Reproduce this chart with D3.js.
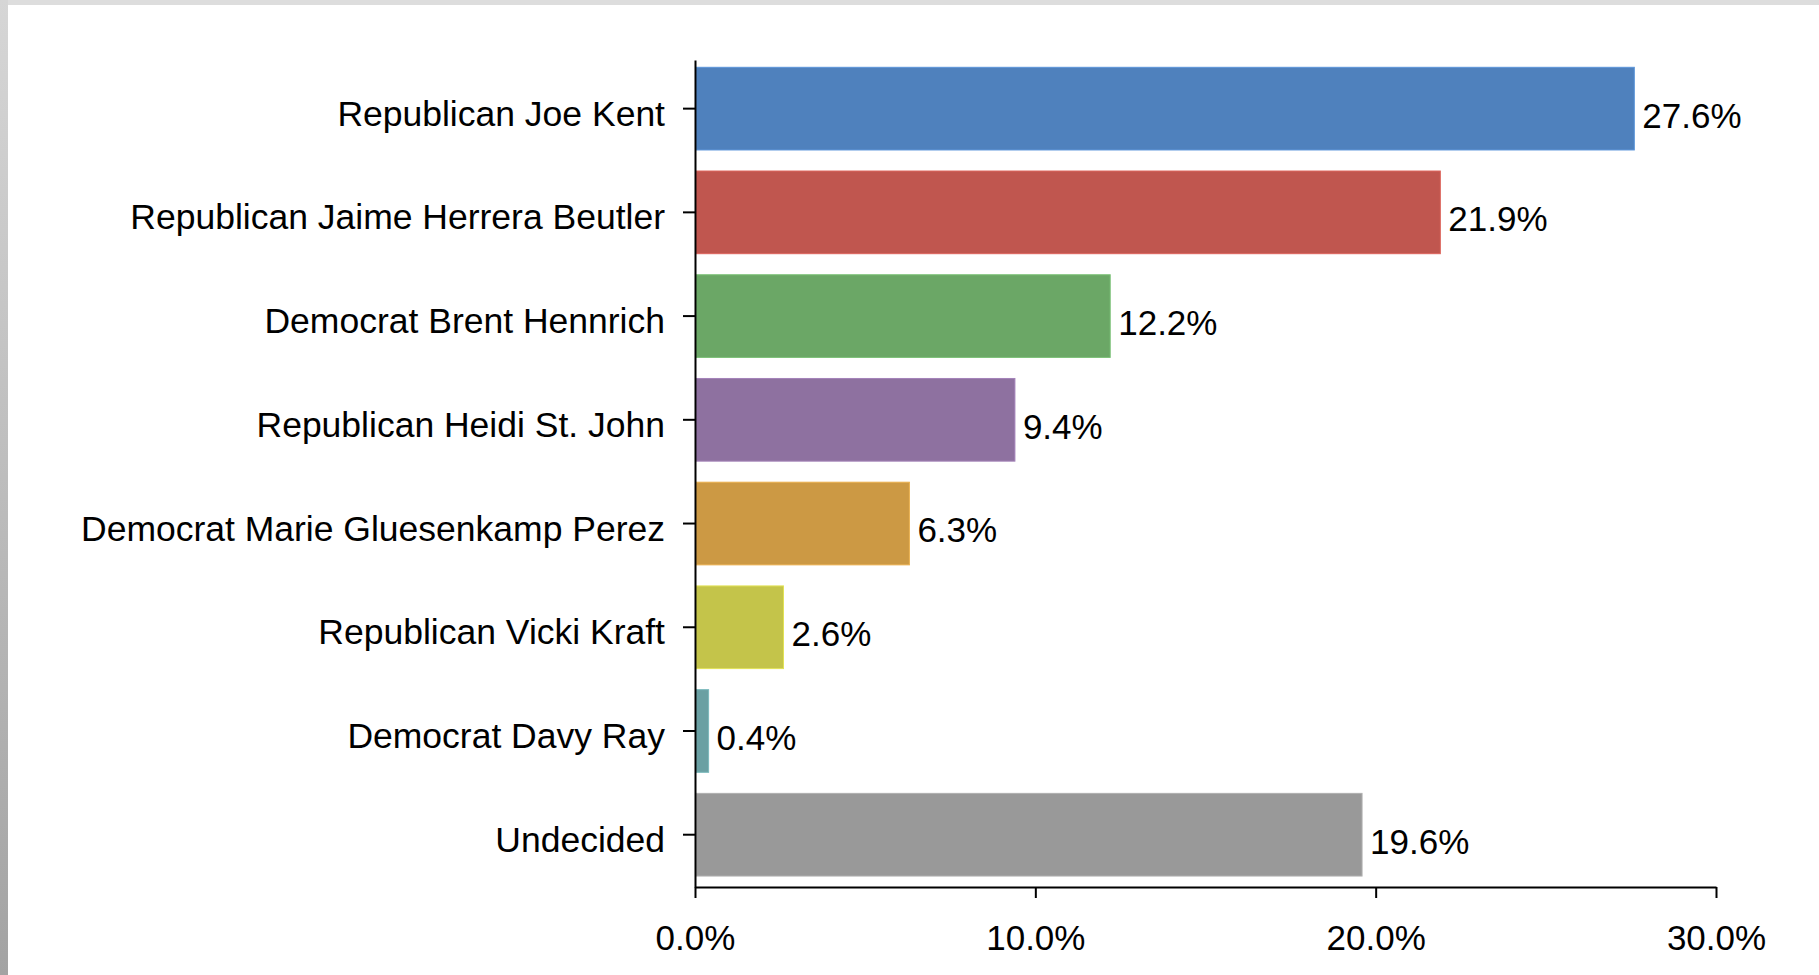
<!DOCTYPE html>
<html>
<head>
<meta charset="utf-8">
<script src="https://cdn.jsdelivr.net/npm/d3@7"></script>
<style>
  html, body { margin: 0; padding: 0; background: #fff; overflow: hidden; }
  svg text { font-family: "Liberation Sans", Arial, Helvetica, sans-serif; fill: #000; }
</style>
</head>
<body>
<script>
// poll data
var candidates = [
    "Republican Joe Kent",
    "Republican Jaime Herrera Beutler",
    "Democrat Brent Hennrich",
    "Republican Heidi St. John",
    "Democrat Marie Gluesenkamp Perez",
    "Republican Vicki Kraft",
    "Democrat Davy Ray",
    "Undecided"
];
var shares = [27.6, 21.9, 12.2, 9.4, 6.3, 2.6, 0.4, 19.6];
var barColours = ["#4f81bd", "#c0564f", "#6ba766", "#8e71a0", "#cc9944", "#c4c44a", "#6aa0a3", "#999999"];
var xTicks = [0, 10, 20, 30];

var width = 1819,
    height = 975;

var svg = d3.select("body").append("svg")
    .attr("width", width)
    .attr("height", height);

// window frame around the screenshot
var grad = svg.append("defs").append("linearGradient")
    .attr("id", "edge")
    .attr("x1", 0).attr("y1", 0).attr("x2", 0).attr("y2", 1);
grad.append("stop").attr("offset", "0%").attr("stop-color", "#d6d6d6");
grad.append("stop").attr("offset", "100%").attr("stop-color", "#a3a3a3");
svg.append("rect")
    .attr("width", width)
    .attr("height", 5)
    .attr("fill", "#dddddd");
svg.append("rect")
    .attr("width", 8)
    .attr("height", height)
    .attr("fill", "url(#edge)");

var x = d3.scaleLinear()
    .domain([0, 30])
    .range([695, 1716]);

var y = d3.scaleBand()
    .domain(candidates)
    .range([60, 887])
    .paddingInner(0.203)
    .paddingOuter(0.088)
    .align(0.4);

var rows = candidates.map(function(c, i) {
    return { name: c, value: shares[i], colour: barColours[i] };
});

svg.selectAll(".bar").data(rows)
    .enter().append("rect")
    .attr("class", "bar")
    .attr("x", x(0) + 1)
    .attr("y", function(d) { return y(d.name); })
    .attr("width", function(d) { return x(d.value) - x(0) - 1; })
    .attr("height", y.bandwidth())
    .attr("fill", function(d) { return d.colour; })
    .attr("stroke", function(d) { return d3.color(d.colour).brighter(0.4); })
    .attr("stroke-width", 1);

svg.selectAll(".val").data(rows)
    .enter().append("text")
    .attr("class", "val")
    .attr("x", function(d) { return x(d.value) + 8; })
    .attr("y", function(d) { return y(d.name) + y.bandwidth() / 2; })
    .attr("dy", "0.54em")
    .style("font-size", "35px")
    .text(function(d) { return d.value.toFixed(1) + "%"; });

var yAxis = svg.append("g")
    .attr("transform", "translate(" + x(0) + ",0)")
    .call(d3.axisLeft(y).tickSize(12).tickSizeOuter(0).tickPadding(18));
yAxis.selectAll("text")
    .attr("dy", "0.48em")
    .style("font-size", "35.5px")
    .style("font-family", "'Liberation Sans', Arial, sans-serif");

var xAxis = svg.append("g")
    .attr("transform", "translate(0,887)")
    .call(d3.axisBottom(x).tickValues(xTicks).tickSize(11).tickSizeOuter(0).tickPadding(27)
        .tickFormat(function(d) { return d.toFixed(1) + "%"; }));
xAxis.selectAll("text")
    .style("font-size", "35px")
    .style("font-family", "'Liberation Sans', Arial, sans-serif");

svg.selectAll(".domain").attr("stroke", "#000").attr("stroke-width", 2);
svg.selectAll(".tick line").attr("stroke", "#000").attr("stroke-width", 2);
</script>
</body>
</html>
